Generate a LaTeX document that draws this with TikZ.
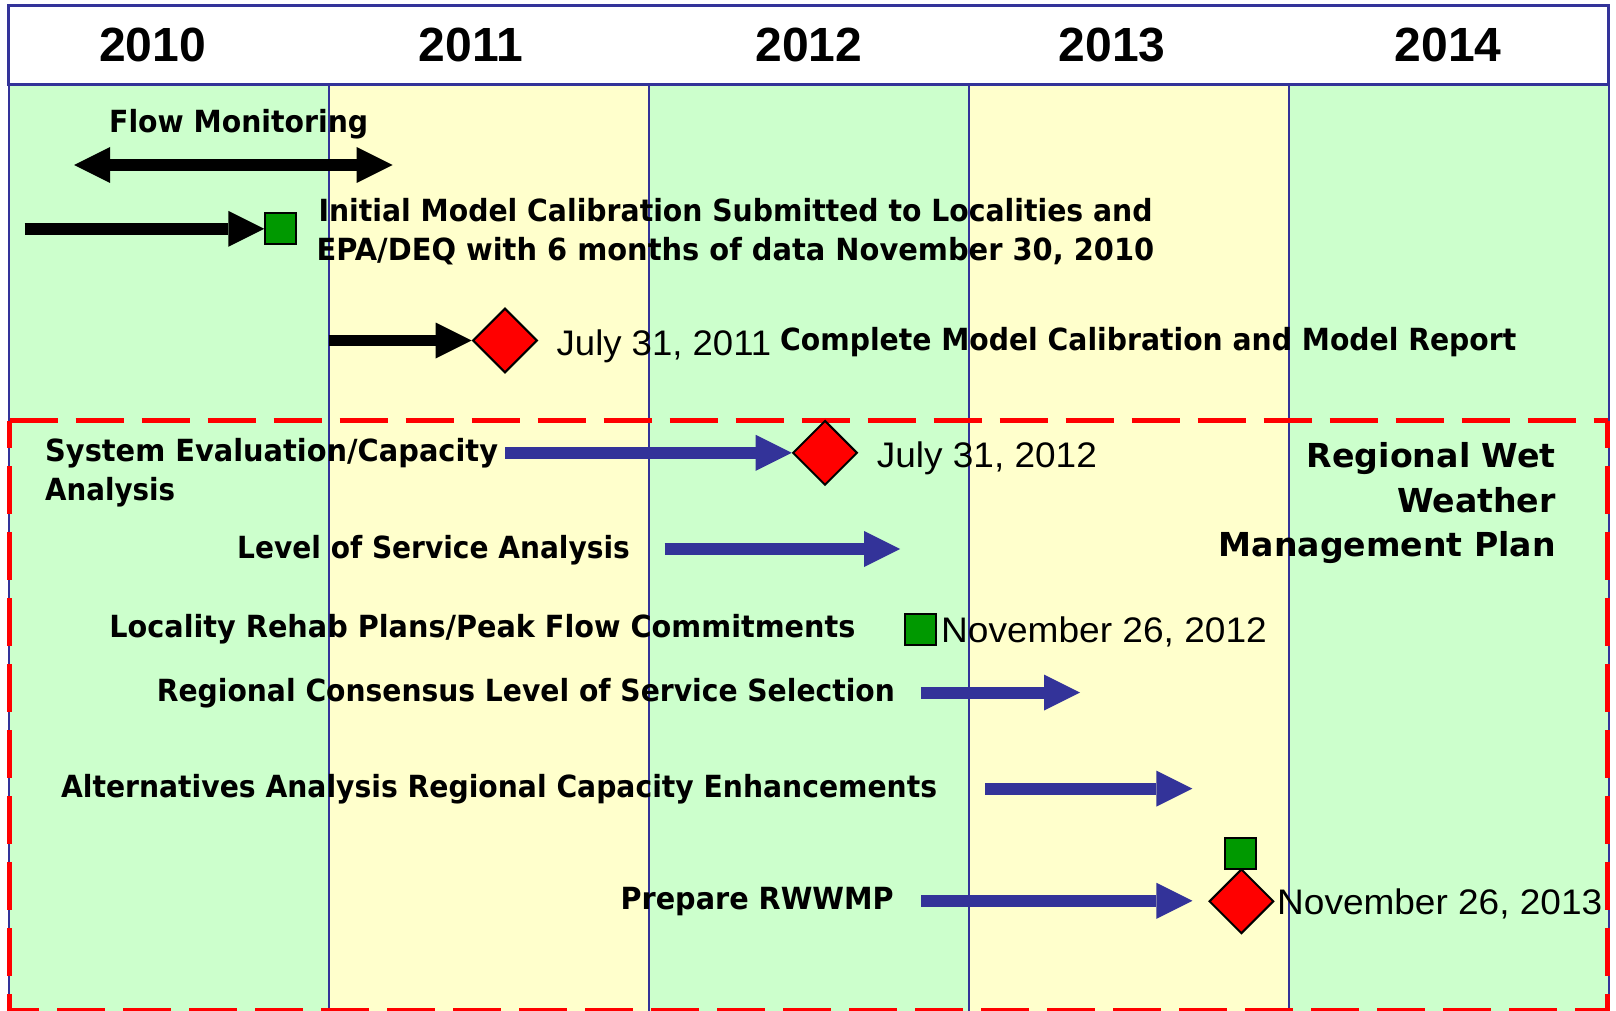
\documentclass[tikz,border=0pt]{standalone}
\usepackage{fontspec}
\usepackage{graphicx}
\usetikzlibrary{arrows.meta,shapes.geometric}
\newfontfamily\lblfamily{DejaVu Sans}
\newfontfamily\arfamily{Liberation Sans}
\definecolor{colgreen}{HTML}{CCFFCC}
\definecolor{colyellow}{HTML}{FFFFCC}
\definecolor{navyline}{HTML}{333399}
\definecolor{msred}{HTML}{FF0000}
\definecolor{msgreen}{HTML}{009900}
\newcommand{\fitw}[2]{\resizebox{#1pt}{\height}{#2}}
\tikzset{
  lbl/.style={anchor=base west, inner sep=0pt, font=\lblfamily\bfseries\fontsize{30.5}{36}\selectfont},
  lblr/.style={anchor=base east, inner sep=0pt, font=\lblfamily\bfseries\fontsize{33}{40}\selectfont},
  datelbl/.style={anchor=base west, inner sep=0pt, font=\arfamily\fontsize{35.5}{42}\selectfont},
  yearlbl/.style={anchor=center, inner sep=0pt, font=\arfamily\bfseries\fontsize{48}{56}\selectfont},
  msdiamond/.style={diamond, aspect=1, minimum width=64.6pt, minimum height=64.6pt, inner sep=0pt, fill=msred, draw=black, line width=2pt},
  sqbox/.style={rectangle, minimum width=31pt, minimum height=31pt, inner sep=0pt, fill=msgreen, draw=black, line width=2pt},
  blkarrow/.style={draw=black, line width=11.5pt, -{Triangle[length=36pt,width=36pt,line width=0pt]}},
  blkdbl/.style={draw=black, line width=11.5pt, {Triangle[length=36pt,width=36pt,line width=0pt]}-{Triangle[length=36pt,width=36pt,line width=0pt]}},
  bluearrow/.style={draw=navyline, line width=12pt, -{Triangle[length=36pt,width=36pt,line width=0pt]}},
  colline/.style={draw=navyline, line width=2pt},
  reddash/.style={draw=msred, line width=5pt, dash pattern=on 48pt off 18pt},
}
\begin{document}
\begin{tikzpicture}[x=1pt,y=-1pt]
\useasboundingbox (0,0) rectangle (1616,1011);
\clip (0,0) rectangle (1616,1011);
\fill[white] (0,0) rectangle (1616,1011);
% column fills
\fill[colgreen] (8.5,84.7) rectangle (328.5,1011);
\fill[colyellow] (328.5,84.7) rectangle (648.5,1011);
\fill[colgreen] (648.5,84.7) rectangle (968.5,1011);
\fill[colyellow] (968.5,84.7) rectangle (1288.5,1011);
\fill[colgreen] (1288.5,84.7) rectangle (1608.5,1011);
% column lines
\foreach \cx in {8.5,328.5,648.5,968.5,1288.5,1608.5}
  \draw[colline] (\cx,84.7) -- (\cx,1011);
% header
\draw[fill=white, draw=navyline, line width=2.5pt] (8.5,5.3) rectangle (1608.5,84.7);
\node[yearlbl] (y2010) at (152.5,44.7) {2010};
\node[yearlbl] (y2011) at (471,44.7) {2011};
\node[yearlbl] (y2012) at (809,44.7) {2012};
\node[yearlbl] (y2013) at (1112,44.7) {2013};
\node[yearlbl] (y2014) at (1448,44.7) {2014};
% dashed red frame
\draw[reddash] (9.5,420.5) -- (1608,420.5);
\draw[reddash, dash phase=20.5pt] (9.5,420.5) -- (9.5,1011);
\draw[reddash, dash phase=20.5pt] (1607.5,420.5) -- (1607.5,1011);
\draw[reddash, dash phase=18.5pt] (9.5,1010.5) -- (1608,1010.5);
% milestones
\node[sqbox] (sq1) at (280.8,228.8) {};
\node[msdiamond] (d1) at (505,340.5) {};
\node[msdiamond] (d2) at (825,452.8) {};
\node[sqbox] (sq2) at (920.8,629.2) {};
\node[sqbox] (sq3) at (1240.9,853.3) {};
\node[msdiamond] (d3) at (1241.4,901.3) {};
% arrow end coordinates
\coordinate (fmL) at (74.2,165);
\coordinate (fmR) at (392.7,165);
\coordinate (r2s) at (24.7,228.8);
\coordinate (r3s) at (328.5,340.5);
\coordinate (ses) at (505,452.8);
\coordinate (loss) at (664.7,549);
\coordinate (lose) at (900,549);
\coordinate (conss) at (921.4,692.6);
\coordinate (conse) at (1080,692.6);
\coordinate (alts) at (985.3,788.6);
\coordinate (alte) at (1192.4,788.6);
\coordinate (preps) at (921.4,900.8);
\coordinate (prepe) at (1192.4,900.8);
% arrows
\draw[blkdbl] (fmL) -- (fmR);
\draw[blkarrow] (r2s) -- (sq1.west);
\draw[blkarrow] (r3s) -- (d1.west);
\draw[bluearrow] (ses) -- (d2.west);
\draw[bluearrow] (loss) -- (lose);
\draw[bluearrow] (conss) -- (conse);
\draw[bluearrow] (alts) -- (alte);
\draw[bluearrow] (preps) -- (prepe);
% labels
\node[lbl] (tflow) at (109,133) {\fitw{259}{Flow Monitoring}};
\node[lbl] (tinit1) at (318.3,221.7) {\fitw{834}{Initial Model Calibration Submitted to Localities and}};
\node[lbl] (tinit2) at (316.4,260) {\fitw{837.6}{EPA/DEQ with 6 months of data November 30, 2010}};
\node[datelbl] (tjul11) at (556.5,355) {\fitw{214.5}{July 31, 2011}};
\node[lbl] (tcomplete) at (780,350) {\fitw{736}{Complete Model Calibration and Model Report}};
\node[lbl] (tsys1) at (45,461.7) {\fitw{452.8}{System Evaluation/Capacity}};
\node[lbl] (tsys2) at (45,500) {\fitw{130}{Analysis}};
\node[datelbl] (tjul12) at (876.7,467.3) {\fitw{220}{July 31, 2012}};
\node[lblr] (trw1) at (1556,467.3) {\fitw{249}{Regional Wet}};
\node[lblr] (trw2) at (1556,512.3) {\fitw{158.7}{Weather}};
\node[lblr] (trw3) at (1556,556.7) {\fitw{337}{Management Plan}};
\node[lbl] (tlos) at (237,558) {\fitw{392.7}{Level of Service Analysis}};
\node[lbl] (tloc) at (109.2,637.5) {\fitw{746}{Locality Rehab Plans/Peak Flow Commitments}};
\node[datelbl] (tnov12) at (941,642.3) {\fitw{325.6}{November 26, 2012}};
\node[lbl] (tcons) at (156.7,701.5) {\fitw{738}{Regional Consensus Level of Service Selection}};
\node[lbl] (talt) at (60.8,797.5) {\fitw{876}{Alternatives Analysis Regional Capacity Enhancements}};
\node[lbl] (tprep) at (620.4,909.5) {\fitw{273}{Prepare RWWMP}};
\node[datelbl] (tnov13) at (1277,914) {\fitw{325}{November 26, 2013}};
\end{tikzpicture}
\end{document}
